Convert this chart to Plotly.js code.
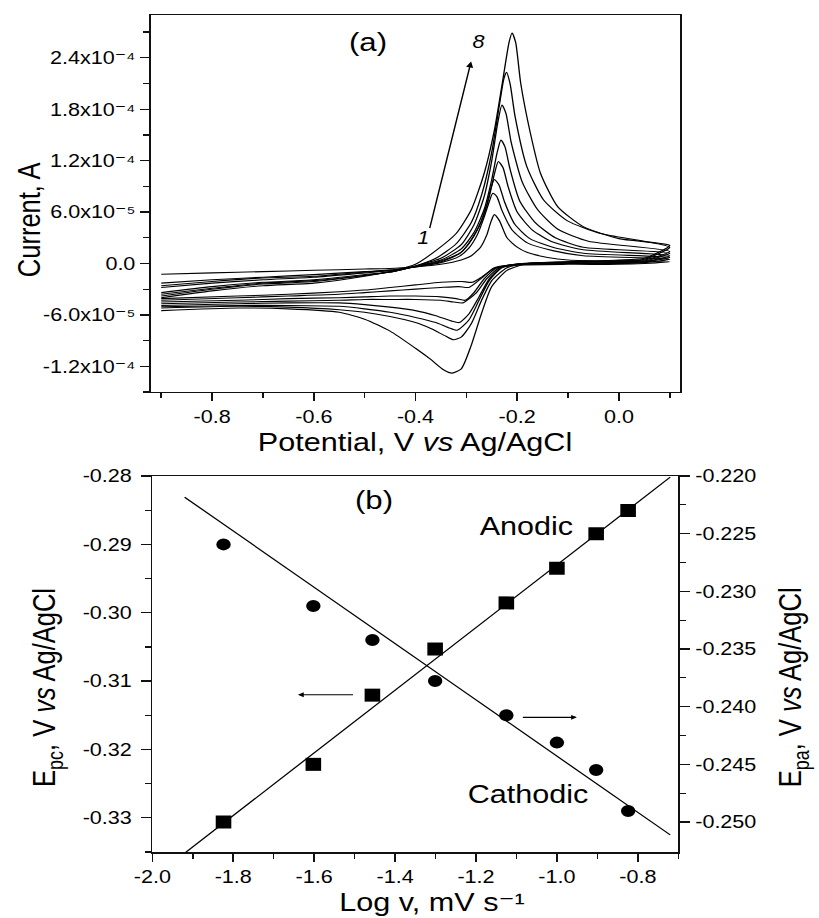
<!DOCTYPE html>
<html>
<head>
<meta charset="utf-8">
<script src="https://cdn.plot.ly/plotly-3.0.1.min.js"></script>
<style>
  html, body { margin: 0; padding: 0; background: #fff; overflow: hidden; }
  #wrap { width: 819px; height: 918px; overflow: hidden; }
  #chart { width: 683px; height: 918px; transform: scaleX(1.1991); transform-origin: 0 0; }
</style>
</head>
<body>
<div id="wrap"><div id="chart"></div></div>
<script>
// ---------- Panel (a): cyclic voltammograms (current in units of 1e-5 A) ----------
const cvE1 = [-0.90,-0.80,-0.70,-0.60,-0.50,-0.44,-0.40,-0.35,-0.31,-0.29,-0.272,-0.26,-0.252,-0.245,-0.235,-0.22,-0.20,-0.181,-0.14,-0.10,0.0,0.10,
              0.05,0.0,-0.1,-0.2,-0.245,-0.27,-0.288,-0.31,-0.35,-0.40,-0.45,-0.50,-0.55,-0.65,-0.75,-0.90];
const cvI1 = [-1.25,-1.1,-0.95,-0.8,-0.65,-0.55,-0.4,-0.1,0.4,0.9,1.9,3.3,4.8,5.7,5.0,3.0,1.9,1.3,0.7,0.4,0.25,0.2,
              0.0,-0.1,-0.1,-0.2,-0.6,-1.6,-2.2,-2.1,-2.2,-2.5,-2.8,-3.1,-3.3,-3.6,-3.8,-4.1];

const cvE2 = [-0.90,-0.80,-0.70,-0.60,-0.50,-0.44,-0.40,-0.35,-0.315,-0.295,-0.278,-0.265,-0.255,-0.248,-0.24,-0.23,-0.21,-0.18,-0.13,-0.07,0.10,
              0.05,0.0,-0.1,-0.2,-0.245,-0.27,-0.295,-0.315,-0.35,-0.40,-0.45,-0.50,-0.55,-0.65,-0.75,-0.90];
const cvI2 = [-2.3,-1.9,-1.6,-1.3,-0.95,-0.7,-0.4,0.1,0.8,1.8,3.4,5.4,7.2,8.2,7.8,6.2,3.9,2.4,1.5,0.9,0.5,
              0.1,0.0,0.0,-0.1,-0.5,-1.7,-2.8,-2.7,-2.8,-3.0,-3.2,-3.4,-3.6,-3.8,-4.0,-4.3];

const cvE3 = [-0.90,-0.80,-0.70,-0.60,-0.50,-0.44,-0.40,-0.35,-0.315,-0.295,-0.275,-0.26,-0.252,-0.245,-0.236,-0.225,-0.205,-0.175,-0.13,-0.07,0.10,
              0.05,0.0,-0.1,-0.2,-0.24,-0.265,-0.285,-0.302,-0.32,-0.35,-0.40,-0.45,-0.50,-0.55,-0.65,-0.75,-0.90];
const cvI3 = [-2.6,-2.1,-1.7,-1.5,-1.0,-0.75,-0.35,0.2,1.1,2.3,4.3,6.8,8.7,9.8,9.2,7.2,4.6,2.9,1.9,1.2,0.7,
              0.2,0.1,0.0,-0.1,-0.5,-1.8,-3.4,-4.3,-4.1,-3.9,-3.8,-3.8,-3.9,-4.0,-4.1,-4.3,-4.5];

const cvE4 = [-0.90,-0.80,-0.70,-0.60,-0.50,-0.44,-0.40,-0.35,-0.31,-0.29,-0.27,-0.255,-0.245,-0.237,-0.228,-0.218,-0.20,-0.17,-0.13,-0.07,0.10,
              0.05,0.0,-0.1,-0.2,-0.235,-0.26,-0.28,-0.307,-0.325,-0.35,-0.40,-0.45,-0.50,-0.55,-0.65,-0.75,-0.90];
const cvI4 = [-2.8,-2.3,-1.9,-1.6,-1.1,-0.8,-0.35,0.3,1.3,2.8,5.0,7.8,10.4,11.9,11.2,9.0,6.0,3.9,2.5,1.6,0.9,
              0.2,0.1,0.0,-0.1,-0.5,-1.8,-3.4,-4.6,-4.5,-4.3,-4.2,-4.2,-4.2,-4.3,-4.4,-4.5,-4.7];

const cvE5 = [-0.90,-0.80,-0.70,-0.60,-0.50,-0.44,-0.40,-0.35,-0.31,-0.285,-0.265,-0.25,-0.24,-0.232,-0.224,-0.214,-0.195,-0.165,-0.125,-0.07,0.10,
              0.05,0.0,-0.1,-0.19,-0.23,-0.255,-0.275,-0.295,-0.314,-0.33,-0.36,-0.40,-0.45,-0.50,-0.55,-0.65,-0.75,-0.90];
const cvI5 = [-3.4,-2.7,-2.2,-1.9,-1.3,-0.9,-0.35,0.4,1.7,3.6,6.3,9.8,12.8,14.4,13.6,11.0,7.3,4.8,3.0,1.9,1.2,
              0.3,0.2,0.1,0.0,-0.4,-1.8,-3.9,-5.9,-6.9,-6.7,-6.1,-5.5,-5.1,-4.8,-4.6,-4.6,-4.7,-4.9];

const cvE6 = [-0.90,-0.80,-0.70,-0.60,-0.50,-0.44,-0.40,-0.35,-0.31,-0.285,-0.265,-0.25,-0.238,-0.230,-0.222,-0.212,-0.19,-0.16,-0.12,-0.06,0.10,
              0.05,0.0,-0.1,-0.19,-0.23,-0.255,-0.275,-0.295,-0.318,-0.335,-0.36,-0.40,-0.45,-0.50,-0.55,-0.65,-0.75,-0.90];
const cvI6 = [-3.6,-2.9,-2.3,-2.0,-1.4,-0.9,-0.3,0.6,2.2,4.5,7.8,12.0,16.5,18.5,17.5,14.2,9.5,6.3,4.0,2.6,1.4,
              0.4,0.3,0.1,0.0,-0.5,-2.0,-4.3,-6.6,-7.8,-7.5,-6.9,-6.3,-5.7,-5.3,-5.0,-4.9,-4.9,-5.05];

const cvE7 = [-0.90,-0.80,-0.70,-0.60,-0.50,-0.44,-0.40,-0.36,-0.32,-0.29,-0.27,-0.25,-0.235,-0.226,-0.221,-0.214,-0.204,-0.181,-0.148,-0.102,-0.036,0.10,
              0.05,0.0,-0.1,-0.18,-0.22,-0.25,-0.27,-0.29,-0.31,-0.325,-0.34,-0.37,-0.40,-0.45,-0.50,-0.55,-0.65,-0.75,-0.90];
const cvI7 = [-3.8,-3.0,-2.4,-2.1,-1.4,-0.9,-0.3,0.6,2.3,4.8,8.0,13.0,18.5,21.6,22.3,21.0,17.1,11.3,7.4,5.0,3.5,1.9,
              0.5,0.3,0.2,0.0,-0.5,-2.0,-4.3,-7.0,-8.6,-8.9,-8.5,-7.6,-6.9,-6.2,-5.7,-5.4,-5.1,-5.0,-5.2];

const cvE8 = [-0.90,-0.80,-0.70,-0.60,-0.50,-0.44,-0.40,-0.36,-0.32,-0.29,-0.265,-0.245,-0.228,-0.216,-0.210,-0.203,-0.193,-0.174,-0.154,-0.12,-0.07,0.0,0.10,
              0.05,0.0,-0.1,-0.18,-0.22,-0.25,-0.27,-0.29,-0.31,-0.328,-0.345,-0.37,-0.40,-0.45,-0.50,-0.55,-0.65,-0.75,-0.90];
const cvI8 = [-4.0,-3.2,-2.6,-2.3,-1.5,-0.8,-0.1,1.5,3.5,6.3,10.5,15.5,21.5,25.8,26.9,25.8,21.0,15.2,10.5,6.6,4.3,2.9,2.1,
              0.6,0.4,0.2,0.0,-0.8,-2.7,-5.8,-9.5,-12.3,-12.8,-12.4,-11.2,-9.9,-7.9,-6.5,-5.7,-5.3,-5.2,-5.5];

const curveE = [cvE1, cvE2, cvE3, cvE4, cvE5, cvE6, cvE7, cvE8];
const curveI = [cvI1, cvI2, cvI3, cvI4, cvI5, cvI6, cvI7, cvI8];

const aXTickVals = [-0.8, -0.6, -0.4, -0.2, 0.0];
const aXTickText = ["-0.8", "-0.6", "-0.4", "-0.2", "0.0"];
const aYTickVals = [-12, -6, 0, 6, 12, 18, 24];
const aYTickText = ["-1.2x10\u207B\u2074", "-6.0x10\u207B\u2075", "0.0", "6.0x10\u207B\u2075",
                    "1.2x10\u207B\u2074", "1.8x10\u207B\u2074", "2.4x10\u207B\u2074"];

// ---------- Panel (b): peak potentials vs log scan rate ----------
const logV = [-1.824, -1.602, -1.456, -1.301, -1.125, -1.0, -0.903, -0.824];
const Epc  = [-0.290, -0.299, -0.304, -0.310, -0.315, -0.319, -0.323, -0.329];   // circles, left axis
const Epa  = [-0.250, -0.245, -0.239, -0.235, -0.231, -0.228, -0.225, -0.223];   // squares, right axis
const fitLogV = [-1.92, -0.72];
const fitEpc  = [-0.2831, -0.3325];
const fitEpa  = [-0.2527, -0.2201];

const bXTickVals = [-2.0, -1.8, -1.6, -1.4, -1.2, -1.0, -0.8];
const bXTickText = ["-2.0", "-1.8", "-1.6", "-1.4", "-1.2", "-1.0", "-0.8"];
const bYLTickVals = [-0.33, -0.32, -0.31, -0.30, -0.29, -0.28];
const bYLTickText = ["-0.33", "-0.32", "-0.31", "-0.30", "-0.29", "-0.28"];
const bYRTickVals = [-0.250, -0.245, -0.240, -0.235, -0.230, -0.225, -0.220];
const bYRTickText = ["-0.250", "-0.245", "-0.240", "-0.235", "-0.230", "-0.225", "-0.220"];

// ---------- build ----------
const FONT = "Arial, 'Liberation Sans', 'DejaVu Sans', sans-serif";
const SUB = 'font-size:18px;baseline-shift:-6px';
const traces = [];
for (let k = 0; k < curveE.length; k++) {
  traces.push({
    x: curveE[k], y: curveI[k], xaxis: 'x', yaxis: 'y',
    type: 'scatter', mode: 'lines',
    line: { color: '#000', width: 1.1, shape: 'spline', smoothing: 0.6 },
    hoverinfo: 'skip'
  });
}
traces.push({ x: fitLogV, y: fitEpc, xaxis: 'x2', yaxis: 'y2', type: 'scatter', mode: 'lines',
              line: { color: '#000', width: 1.2 } });
traces.push({ x: logV, y: Epc, xaxis: 'x2', yaxis: 'y2', type: 'scatter', mode: 'markers',
              marker: { symbol: 'circle', size: 12, color: '#000' } });
traces.push({ x: fitLogV, y: fitEpa, xaxis: 'x2', yaxis: 'y3', type: 'scatter', mode: 'lines',
              line: { color: '#000', width: 1.2 } });
traces.push({ x: logV, y: Epa, xaxis: 'x2', yaxis: 'y3', type: 'scatter', mode: 'markers',
              marker: { symbol: 'square', size: 13, color: '#000' } });

const axBase = {
  showgrid: false, zeroline: false, showline: true, linecolor: '#111', linewidth: 1.5,
  ticks: 'outside', ticklen: 8, tickwidth: 1.3, tickcolor: '#111',
  tickfont: { family: FONT, size: 18, color: '#000' }, tickmode: 'array'
};
function ax(extra) { return Object.assign({}, axBase, extra); }

const layout = {
  width: 683, height: 918,
  margin: { l: 126, r: 116, t: 15, b: 66, pad: 0 },
  paper_bgcolor: '#fff', plot_bgcolor: '#fff',
  showlegend: false,
  font: { family: FONT, size: 18, color: '#000' },
  xaxis: ax({ domain: [0, 1], anchor: 'y', range: [-0.92, 0.12], mirror: true,
              tickvals: aXTickVals, ticktext: aXTickText,
              minor: { tickvals: [-0.9, -0.7, -0.5, -0.3, -0.1, 0.1], ticklen: 5, ticks: 'outside', tickcolor: '#111' } }),
  yaxis: ax({ domain: [0.5496, 1], anchor: 'x', range: [-15, 29], mirror: true,
              tickvals: aYTickVals, ticktext: aYTickText,
              minor: { tickvals: [-15, -9, -3, 3, 9, 15, 21, 27], ticklen: 5, ticks: 'outside', tickcolor: '#111' } }),
  xaxis2: ax({ domain: [0.0023, 0.997], anchor: 'y2', range: [-2.0, -0.7], mirror: true,
               tickvals: bXTickVals, ticktext: bXTickText,
               minor: { tickvals: [-1.9, -1.7, -1.5, -1.3, -1.1, -0.9, -0.7], ticklen: 5, ticks: 'outside', tickcolor: '#111' } }),
  yaxis2: ax({ domain: [0, 0.4492], anchor: 'x2', range: [-0.335, -0.28],
               tickvals: bYLTickVals, ticktext: bYLTickText, ticklabelstandoff: 4,
               minor: { tickvals: [-0.335, -0.325, -0.315, -0.305, -0.295, -0.285], ticklen: 5, ticks: 'outside', tickcolor: '#111' } }),
  yaxis3: ax({ overlaying: 'y2', side: 'right', anchor: 'x2', range: [-0.2526, -0.22],
               tickvals: bYRTickVals, ticktext: bYRTickText, ticklabelstandoff: 1,
               minor: { tickvals: [-0.2475, -0.2425, -0.2375, -0.2325, -0.2275, -0.2225], ticklen: 5, ticks: 'outside', tickcolor: '#111' } }),
  annotations: [
    // axis titles
    { xref: 'paper', yref: 'paper', x: -0.2308, y: 0.7551, text: 'Current, A', textangle: -90,
      showarrow: false, font: { family: FONT, size: 25.5 }, xanchor: 'center', yanchor: 'middle' },
    { xref: 'paper', yref: 'paper', x: 0.498, y: 0.4898, text: 'Potential, V <i>vs</i> Ag/AgCl',
      showarrow: false, font: { family: FONT, size: 25.5 }, xanchor: 'center', yanchor: 'middle' },
    { xref: 'paper', yref: 'paper', x: 0.5313, y: -0.0597, text: 'Log v, mV s\u207B\u00B9',
      showarrow: false, font: { family: FONT, size: 25.5 }, xanchor: 'center', yanchor: 'middle' },
    { xref: 'paper', yref: 'paper', x: -0.1975, y: 0.197,
      text: 'E<span style="' + SUB + '">pc</span>, V <i>vs</i> Ag/AgCl', textangle: -90,
      showarrow: false, font: { family: FONT, size: 25.5 }, xanchor: 'center', yanchor: 'middle' },
    { xref: 'paper', yref: 'paper', x: 1.2138, y: 0.197,
      text: 'E<span style="' + SUB + '">pa</span>, V <i>vs</i> Ag/AgCl', textangle: -90,
      showarrow: false, font: { family: FONT, size: 25.5 }, xanchor: 'center', yanchor: 'middle' },
    // panel (a) labels
    { xref: 'x', yref: 'y', x: -0.4937, y: 25.9, text: '(a)', showarrow: false,
      font: { family: FONT, size: 26 } },
    { xref: 'x', yref: 'y', x: -0.2764, y: 25.8, text: '<i>8</i>', showarrow: false,
      font: { family: FONT, size: 18 } },
    { xref: 'x', yref: 'y', x: -0.3846, y: 3.0, text: '<i>1</i>', showarrow: false,
      font: { family: FONT, size: 18 } },
    { xref: 'x', yref: 'y', axref: 'x', ayref: 'y', x: -0.2907, y: 23.57, ax: -0.3727, ay: 3.96,
      text: '', showarrow: true, arrowhead: 2, arrowsize: 1, arrowwidth: 1.2, arrowcolor: '#000' },
    // panel (b) labels
    { xref: 'x2', yref: 'y2', x: -1.4526, y: -0.28358, text: '(b)', showarrow: false,
      font: { family: FONT, size: 26 } },
    { xref: 'x2', yref: 'y2', x: -1.0748, y: -0.28737, text: 'Anodic', showarrow: false,
      font: { family: FONT, size: 25.5 } },
    { xref: 'x2', yref: 'y2', x: -1.0704, y: -0.3265, text: 'Cathodic', showarrow: false,
      font: { family: FONT, size: 25.5 } },
    { xref: 'x2', yref: 'y2', axref: 'x2', ayref: 'y2', x: -1.640, y: -0.3120, ax: -1.4995, ay: -0.3120,
      text: '', showarrow: true, arrowhead: 2, arrowsize: 0.8, arrowwidth: 1.2, arrowcolor: '#000' },
    { xref: 'x2', yref: 'y2', axref: 'x2', ayref: 'y2', x: -0.9506, y: -0.3153, ax: -1.0886, ay: -0.3153,
      text: '', showarrow: true, arrowhead: 2, arrowsize: 0.8, arrowwidth: 1.2, arrowcolor: '#000' }
  ]
};

Plotly.newPlot('chart', traces, layout, { staticPlot: true, displayModeBar: false });
</script>
</body>
</html>
